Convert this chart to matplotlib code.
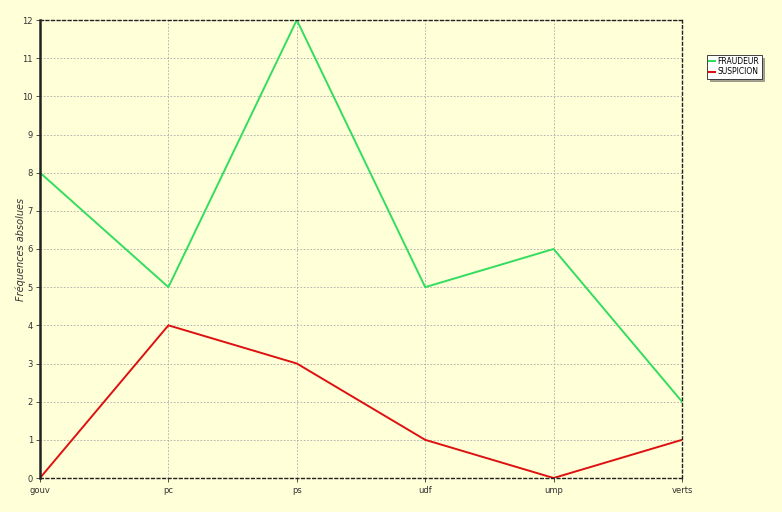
import matplotlib
matplotlib.use("Agg")
import matplotlib.pyplot as plt
from matplotlib.lines import Line2D

categories = ["gouv", "pc", "ps", "udf", "ump", "verts"]
fraudeur = [8, 5, 12, 5, 6, 2]
suspicion = [0, 4, 3, 1, 0, 1]
yticks = list(range(0, 13))

bg = "#ffffd8"
green = "#33dd60"
red = "#dd1111"

fig = plt.figure(figsize=(7.82, 5.12), dpi=100, facecolor=bg)
ax = fig.add_axes([40 / 782, 1 - 478 / 512, 642 / 782, 458 / 512])
ax.set_facecolor(bg)

x = range(len(categories))
ax.plot(x, fraudeur, color=green, lw=1.4, label="FRAUDEUR")
ax.plot(x, suspicion, color=red, lw=1.4, label="SUSPICION")

ax.set_xlim(0, len(categories) - 1)
ax.set_ylim(0, 12)
ax.set_xticks(list(x))
ax.set_xticklabels(categories, fontsize=6, color="#333333")
ax.set_yticks(yticks)
ax.set_yticklabels([str(v) for v in yticks], fontsize=6, color="#333333")
ax.tick_params(axis="both", length=3, width=0.6, pad=2, colors="#333333")
ax.tick_params(axis="x", pad=3)

ax.grid(True, color="#aaaaaa", linestyle=(0, (2, 2)), linewidth=0.6)

ax.spines["left"].set_linewidth(1.8)
ax.spines["left"].set_color("#222222")
for side in ("top", "right", "bottom"):
    ax.spines[side].set_linestyle((0, (2, 2)))
    ax.spines[side].set_linewidth(1.0)
    ax.spines[side].set_color("#222222")

ax.set_ylabel("Fréquences absolues", fontsize=7, style="italic", color="#333333")
ax.yaxis.set_label_coords(-14 / 642, 0.5)

handles = [Line2D([0], [0], color=green, lw=1.5), Line2D([0], [0], color=red, lw=1.5)]
leg = fig.legend(handles, ["FRAUDEUR", "SUSPICION"], loc="upper left",
                 bbox_to_anchor=(703 / 782, 1 - 51 / 512), fontsize=5.5,
                 handlelength=0.8, handletextpad=0.3, borderpad=0.3,
                 labelspacing=0.15, fancybox=False, framealpha=1,
                 edgecolor="#222222", facecolor="white", shadow=True)
leg.get_frame().set_linewidth(0.6)

fig.savefig("out.png", dpi=100, facecolor=bg)
